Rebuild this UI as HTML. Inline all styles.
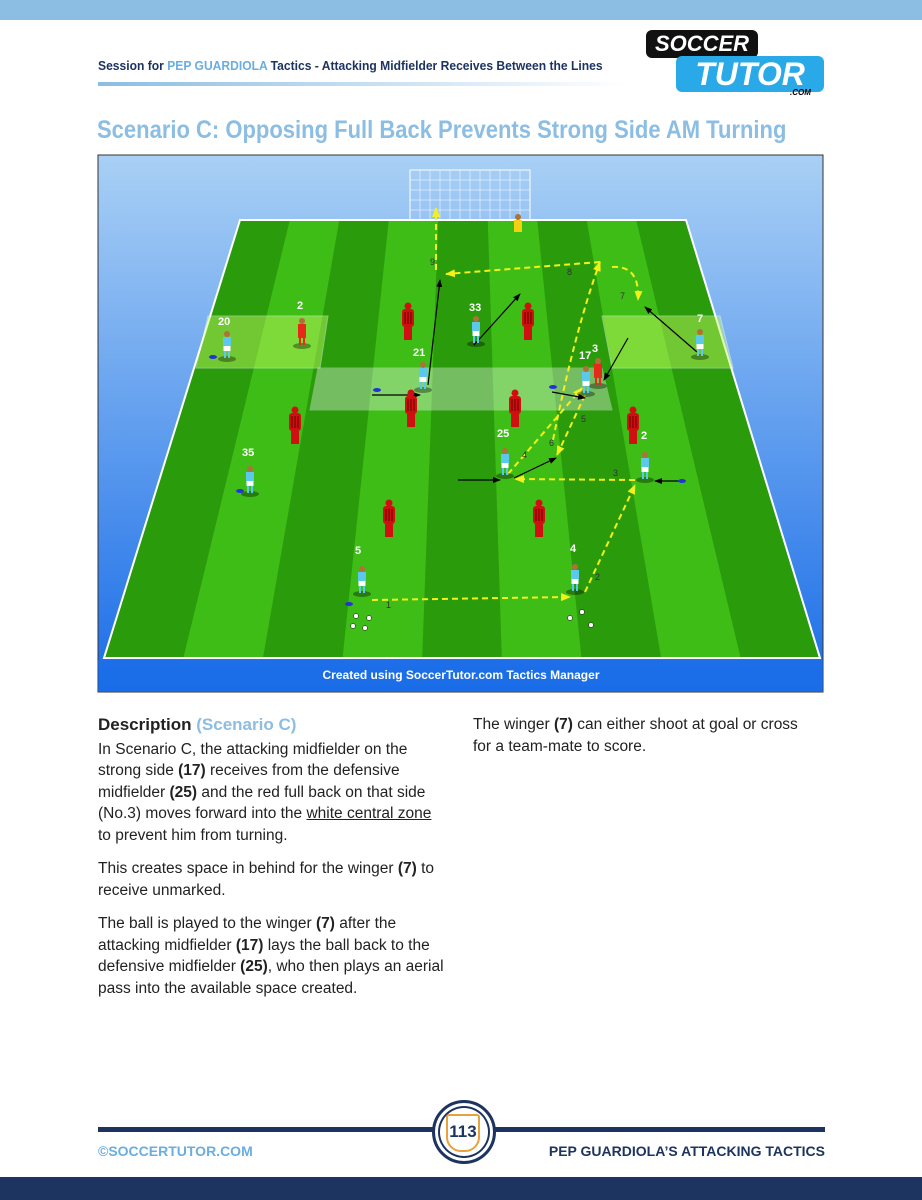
<!DOCTYPE html>
<html><head><meta charset="utf-8"><style>
body{margin:0;width:922px;height:1200px;position:relative;background:#fff;font-family:"Liberation Sans",sans-serif;overflow:hidden}
.abs{position:absolute}
</style></head><body>
<div class="abs" style="left:0;top:0;width:922px;height:20px;background:#8cbde2"></div>
<div class="abs" style="left:98px;top:58px;font-size:13px;font-weight:bold;color:#1d3461;transform:scaleX(0.93);transform-origin:left;white-space:nowrap">Session for <span style="color:#6aaee0">PEP GUARDIOLA</span> Tactics - Attacking Midfielder Receives Between the Lines</div>
<div class="abs" style="left:98px;top:82px;width:530px;height:4px;background:linear-gradient(90deg,#8cbde2,#fff)"></div>
<div class="abs" style="left:646px;top:30px;width:112px;height:28px;background:#111;border-radius:6px;color:#fff;font-weight:bold;font-style:italic;font-size:22px;text-align:center;line-height:28px">SOCCER</div>
<div class="abs" style="left:676px;top:56px;width:148px;height:36px;background:#29a9e8;border-radius:6px;color:#fff;font-weight:bold;font-style:italic;font-size:32px;text-align:center;line-height:36px">TUTOR</div>
<div class="abs" style="left:790px;top:88px;font-size:8px;font-weight:bold;font-style:italic">.COM</div>
<div class="abs" style="left:97px;top:116px;font-size:25px;font-weight:bold;color:#8cbde2;transform:scaleX(0.88);transform-origin:left;white-space:nowrap">Scenario C: Opposing Full Back Prevents Strong Side AM Turning</div>

<svg class="abs" style="left:97px;top:154px" width="727" height="539" viewBox="97 154 727 539">
<defs>
<linearGradient id="sky" x1="0" y1="0" x2="0" y2="1"><stop offset="0" stop-color="#a9d0f5"/><stop offset="1" stop-color="#1a6de8"/></linearGradient>
<g id="pl"><ellipse cx="0" cy="14" rx="9" ry="3" fill="#000" opacity=".35"/><rect x="-4" y="-8" width="8" height="9" fill="#5bc8ec"/><rect x="-3.5" y="1" width="7" height="5" fill="#fff"/><rect x="-3" y="6" width="2" height="7" fill="#5bc8ec"/><rect x="1" y="6" width="2" height="7" fill="#5bc8ec"/><circle cx="0" cy="-11" r="3" fill="#b0703a"/></g>
<g id="rp"><ellipse cx="0" cy="14" rx="9" ry="3" fill="#000" opacity=".35"/><rect x="-4" y="-8" width="8" height="14" fill="#e52a1a"/><rect x="-3" y="6" width="2" height="7" fill="#e52a1a"/><rect x="1" y="6" width="2" height="7" fill="#e52a1a"/><circle cx="0" cy="-11" r="3" fill="#b0703a"/></g>
<g id="mn"><circle cx="0" cy="-12" r="3.5" fill="#d01010"/><rect x="-6" y="-9" width="12" height="18" rx="3" fill="#d01010"/><rect x="-4" y="9" width="8" height="13" fill="#d01010"/><path d="M-3-6v12M0-6v12M3-6v12" stroke="#600" stroke-width="1"/></g>
<marker id="ay" markerUnits="userSpaceOnUse" markerWidth="10" markerHeight="8" refX="9" refY="4" orient="auto"><path d="M0,0L10,4L0,8z" fill="#f4f01a"/></marker>
<marker id="ab" markerUnits="userSpaceOnUse" markerWidth="8" markerHeight="6" refX="7" refY="3" orient="auto"><path d="M0,0L8,3L0,6z" fill="#000"/></marker>
</defs>
<rect x="98" y="155" width="725" height="537" fill="url(#sky)" stroke="#333"/>
<polygon points="240,220 686,220 820,658 104,658" fill="#2a9c0c" stroke="#fff" stroke-width="2"/>
<g fill="#3fbd17">
<polygon points="289.6,221 339.1,221 263.1,657 183.6,657"/>
<polygon points="388.7,221 438.2,221 422.2,657 342.7,657"/>
<polygon points="487.8,221 537.3,221 581.3,657 501.8,657"/>
<polygon points="586.9,221 636.4,221 740.4,657 661,657"/>
</g>
<polygon points="208,316 328,316 320,368 196,368" fill="#c8ff60" opacity=".45" stroke="#fff"/>
<polygon points="602,316 720,316 733,368 612,368" fill="#c8ff60" opacity=".45" stroke="#fff"/>
<polygon points="318,368 602,368 612,410 310,410" fill="#fff" opacity=".35" stroke="#fff"/>
<g stroke="#fff" fill="none"><rect x="410" y="170" width="120" height="50"/><path d="M410,180h120M410,190h120M410,200h120M410,210h120M420,170v50M430,170v50M440,170v50M450,170v50M460,170v50M470,170v50M480,170v50M490,170v50M500,170v50M510,170v50M520,170v50" stroke-width=".5"/></g>
<rect x="98" y="660" width="725" height="32" fill="#1a6de8" opacity=".6"/>
<text x="461" y="679" fill="#fff" font-size="12" font-weight="bold" text-anchor="middle">Created using SoccerTutor.com Tactics Manager</text>
<g stroke="#f4f01a" stroke-width="2" stroke-dasharray="6,4" fill="none" marker-end="url(#ay)">
<path d="M372,600L570,597"/><path d="M585,592L635,485"/><path d="M635,480L515,479"/><path d="M508,474L582,388"/><path d="M585,395L557,455"/><path d="M553,440Q575,330 600,262"/><path d="M600,262L446,274"/><path d="M436,270L436,208"/><path d="M612,267Q640,265 638,300"/>
</g>
<g stroke="#000" stroke-width="1.2" fill="none" marker-end="url(#ab)">
<path d="M428,385L440,280"/><path d="M474,345L520,294"/><path d="M372,395L420,395"/><path d="M552,392L585,398"/><path d="M628,338L604,380"/><path d="M697,352L645,307"/><path d="M458,480L500,480"/><path d="M514,478L556,458"/><path d="M680,481L655,481"/>
</g>
<g font-size="9" fill="#333"><text x="386" y="608">1</text><text x="595" y="580">2</text><text x="613" y="476">3</text><text x="522" y="458">4</text><text x="581" y="422">5</text><text x="549" y="446">6</text><text x="620" y="299">7</text><text x="567" y="275">8</text><text x="430" y="265">9</text></g>
<use href="#mn" x="408" y="318"/><use href="#mn" x="528" y="318"/><use href="#mn" x="295" y="422"/><use href="#mn" x="411" y="405"/><use href="#mn" x="515" y="405"/><use href="#mn" x="633" y="422"/><use href="#mn" x="389" y="515"/><use href="#mn" x="539" y="515"/>
<use href="#rp" x="302" y="332"/><use href="#rp" x="598" y="372"/>
<g fill="#f4d010"><rect x="514" y="220" width="8" height="12"/><circle cx="518" cy="217" r="3" fill="#b0703a"/></g>
<use href="#pl" x="227" y="345"/><use href="#pl" x="476" y="330"/><use href="#pl" x="423" y="376"/><use href="#pl" x="586" y="380"/><use href="#pl" x="700" y="343"/><use href="#pl" x="250" y="480"/><use href="#pl" x="505" y="462"/><use href="#pl" x="645" y="466"/><use href="#pl" x="362" y="580"/><use href="#pl" x="575" y="578"/>
<g fill="#fff" font-size="11" font-weight="bold"><text x="218" y="325">20</text><text x="297" y="309">2</text><text x="469" y="311">33</text><text x="413" y="356">21</text><text x="579" y="359">17</text><text x="592" y="352">3</text><text x="697" y="322">7</text><text x="242" y="456">35</text><text x="497" y="437">25</text><text x="641" y="439">2</text><text x="355" y="554">5</text><text x="570" y="552">4</text></g>
<g fill="#fff" stroke="#000" stroke-width=".5"><circle cx="356" cy="616" r="2.5"/><circle cx="369" cy="618" r="2.5"/><circle cx="353" cy="626" r="2.5"/><circle cx="365" cy="628" r="2.5"/><circle cx="582" cy="612" r="2.5"/><circle cx="570" cy="618" r="2.5"/><circle cx="591" cy="625" r="2.5"/></g>
<g fill="#2233dd"><ellipse cx="213" cy="357" rx="4" ry="2"/><ellipse cx="377" cy="390" rx="4" ry="2"/><ellipse cx="553" cy="387" rx="4" ry="2"/><ellipse cx="682" cy="481" rx="4" ry="2"/><ellipse cx="240" cy="491" rx="4" ry="2"/><ellipse cx="349" cy="604" rx="4" ry="2"/></g>
</svg>

<div class="abs" style="left:98px;top:714px;width:348px;font-size:15.5px;line-height:21.5px;color:#222">
<div style="font-weight:bold;font-size:17px;margin-bottom:3px">Description <span style="color:#8cbde2">(Scenario C)</span></div>
<div>In Scenario C, the attacking midfielder on the strong side <b>(17)</b> receives from the defensive midfielder <b>(25)</b> and the red full back on that side (No.3) moves forward into the <u>white central zone</u> to prevent him from turning.</div>
<div style="margin-top:12px">This creates space in behind for the winger <b>(7)</b> to receive unmarked.</div>
<div style="margin-top:12px">The ball is played to the winger <b>(7)</b> after the attacking midfielder <b>(17)</b> lays the ball back to the defensive midfielder <b>(25)</b>, who then plays an aerial pass into the available space created.</div>
</div>
<div class="abs" style="left:473px;top:714px;width:340px;font-size:15.5px;line-height:21.5px;color:#222">The winger <b>(7)</b> can either shoot at goal or cross for a team-mate to score.</div>

<div class="abs" style="left:98px;top:1127px;width:727px;height:5px;background:#1d3461"></div>
<div class="abs" style="left:432px;top:1100px;width:58px;height:58px;border-radius:50%;background:#fff;border:3px solid #1d3461;box-shadow:inset 0 0 0 3px #fff,inset 0 0 0 5px #1d3461"></div>
<div class="abs" style="left:446px;top:1114px;width:30px;height:34px;background:#fff;border:2px solid #e6a23c;border-radius:3px 3px 15px 15px;text-align:center;font-weight:bold;font-size:17px;line-height:32px;color:#1d3461">113</div>
<div class="abs" style="left:98px;top:1143px;font-size:14px;font-weight:bold;color:#6aaee0">©SOCCERTUTOR.COM</div>
<div class="abs" style="right:97px;top:1143px;font-size:14px;font-weight:bold;color:#1d3461">PEP GUARDIOLA’S ATTACKING TACTICS</div>
<div class="abs" style="left:0;top:1177px;width:922px;height:23px;background:#1d3461"></div>
</body></html>
